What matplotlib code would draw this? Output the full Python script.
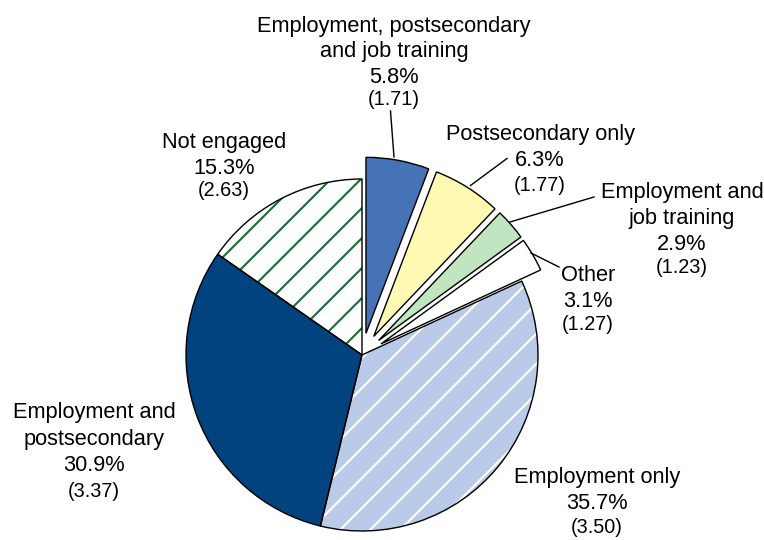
import matplotlib
matplotlib.use("Agg")
import matplotlib.pyplot as plt

# ---- data ----
categories = [
    "Employment, postsecondary\nand job training",
    "Postsecondary only",
    "Employment and\njob training",
    "Other",
    "Employment only",
    "Employment and\npostsecondary",
    "Not engaged",
]
percents = [5.8, 6.3, 2.9, 3.1, 35.7, 30.9, 15.3]
std_errors = [1.71, 1.77, 1.23, 1.27, 3.50, 3.37, 2.63]

# ---- styles ----
face_colors = ["#4673B5", "#FFF9B4", "#C1E5C1", "#FFFFFF", "#B9CBE9", "#00437F", "#FFFFFF"]
hatches = [None, None, None, None, "/", None, "/"]
hatch_colors = ["#4673B5", "#FFF9B4", "#C1E5C1", "#FFFFFF", "#FFFFFF", "#00437F", "#1B6B36"]
explode_px = [22, 22, 22, 22, 0, 0, 0]

W, H = 764, 540
DPI = 90
PX = 72 / DPI  # points per pixel

plt.rcParams["font.family"] = ["Liberation Sans", "DejaVu Sans"]
plt.rcParams["hatch.linewidth"] = 2.1 * PX

fig = plt.figure(figsize=(W / DPI, H / DPI), dpi=DPI)
ax = fig.add_axes([0, 0, 1, 1])

def Y(y):
    return H - y

center = (362, Y(355))
radius = 176

wedges, _ = ax.pie(percents, colors=face_colors, explode=explode_px, startangle=90,
                   counterclock=False, center=center, radius=radius,
                   hatch=hatches, wedgeprops=dict(linewidth=0))
for w, hc in zip(wedges, hatch_colors):
    w.set_edgecolor(hc)
    w.set_linewidth(0)

outline, _ = ax.pie(percents, explode=explode_px, startangle=90, counterclock=False,
                    center=center, radius=radius,
                    wedgeprops=dict(facecolor="none", edgecolor="black", linewidth=1.4 * PX))

ax.set_xlim(0, W)
ax.set_ylim(0, H)
ax.set_aspect("equal")
ax.axis("off")

# label layout: (center x, first baseline y, line step, paren baseline y)
label_layout = [
    (394, 32, 25.5, 105),
    (540, 140, 25.5, 191),
    (682, 198, 26, 273),
    (588, 281, 26, 330),
    (597, 483, 26, 533),
    (94, 418, 26.5, 497),
    (224, 148, 25.5, 196),
]
main_fs = 21.7 * PX
sub_fs = 19.9 * PX

for name, pct, se, (cx, by, step, py) in zip(categories, percents, std_errors, label_layout):
    lines = name.split("\n") + [f"{pct:.1f}%"]
    for i, ln in enumerate(lines):
        ax.text(cx, Y(by + i * step), ln, ha="center", va="baseline", fontsize=main_fs, color="black")
    ax.text(cx, Y(py), f"({se:.2f})", ha="center", va="baseline", fontsize=sub_fs, color="black")

# leader lines
leaders = [
    ((390.5, 111), (394, 157)),
    ((507, 158.5), (470.5, 185.5)),
    ((594, 197), (510, 222)),
    ((531, 253), (559, 267)),
]
for (x0, y0), (x1, y1) in leaders:
    ax.plot([x0, x1], [Y(y0), Y(y1)], color="black", linewidth=1.4 * PX)

fig.savefig("out.png", dpi=DPI)
